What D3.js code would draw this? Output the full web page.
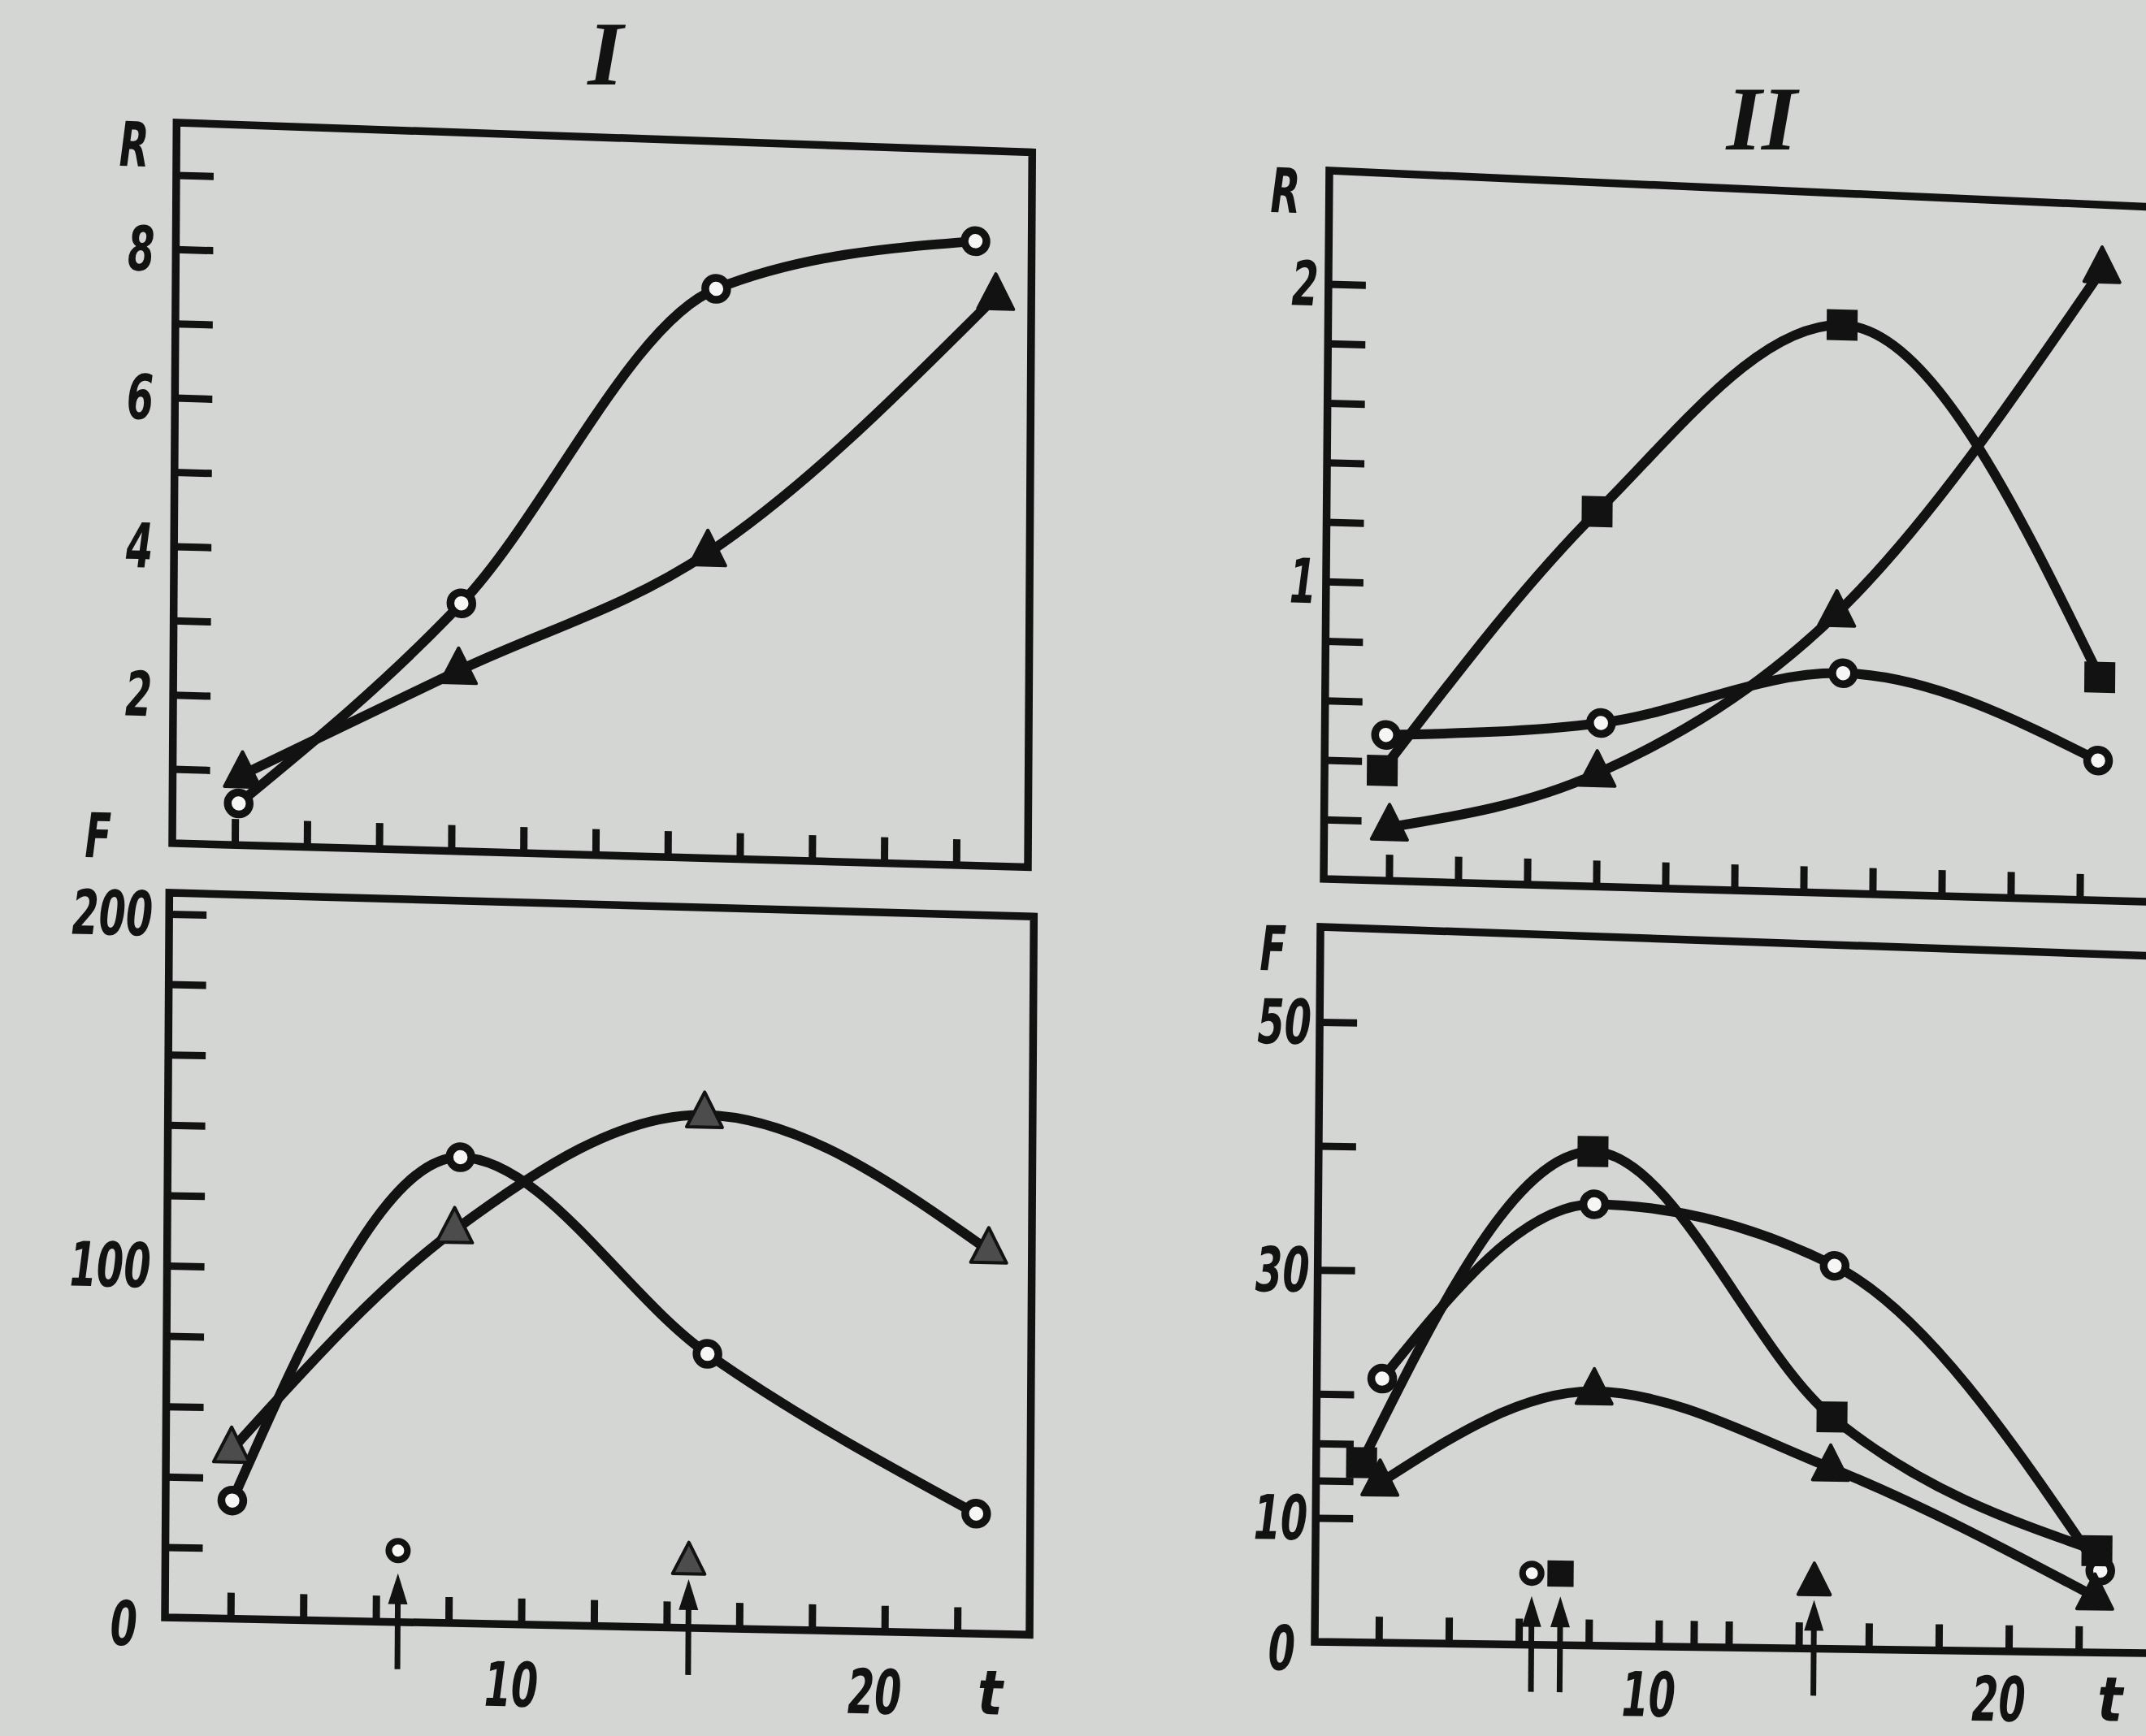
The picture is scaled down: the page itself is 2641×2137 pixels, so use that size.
<!DOCTYPE html>
<html>
<head>
<meta charset="utf-8">
<script src="https://cdn.jsdelivr.net/npm/d3@7"></script>
<style>
  html, body { margin: 0; padding: 0; background: #d4d6d3; overflow: hidden; }
  svg { display: block; }
</style>
</head>
<body>
<svg id="svg"></svg>
<script>
"use strict";

// ---- data ----
var tTicks    = [2, 4, 6, 8, 10, 12, 14, 16, 18, 20, 22];
var tTicksIIF = [2, 4, 6, 8, 10, 11, 12, 14, 16, 18, 20, 22];
var tLabels   = [10, 20];

var rTicksI   = [1, 2, 3, 4, 5, 6, 7, 8, 9];
var rLabelsI  = [2, 4, 6, 8];
var fTicksI   = [20, 40, 60, 80, 100, 120, 140, 160, 180, 200];
var fLabelsI  = [0, 100, 200];
var rTicksII  = [0.2, 0.4, 0.6, 0.8, 1, 1.2, 1.4, 1.6, 1.8, 2];
var rLabelsII = [1, 2];
var fTicksII  = [10, 13, 16, 20, 30, 40, 50];
var fLabelsII = [0, 10, 30, 50];

// panel I, R
var rI_circle_t   = [2.1, 8.24, 15.25, 22.43];
var rI_circle     = [0.56, 3.34, 7.67, 8.41];
var rI_triangle_t = [2.2, 8.17, 15.06, 23.0];
var rI_triangle   = [0.95, 2.43, 4.11, 7.67];

// panel I, F
var fI_circle_t   = [2.03, 8.25, 15.08, 22.5];
var fI_circle     = [33.6, 132.5, 78, 34.1];
var fI_triangle_t = [2.0, 8.1, 14.96, 22.8];
var fI_triangle   = [48, 111.7, 145.9, 109];

// panel II, R
var rII_square_t   = [1.78, 7.94, 14.99, 22.53];
var rII_square     = [0.37, 1.26, 1.91, 0.75];
var rII_circle_t   = [1.88, 8.1, 15.1, 22.5];
var rII_circle     = [0.49, 0.55, 0.74, 0.47];
var rII_triangle_t = [2.0, 8.0, 14.9, 22.5];
var rII_triangle   = [0.18, 0.38, 0.94, 2.12];

// panel II, F
var fII_square_t   = [1.47, 8.01, 14.9, 22.5];
var fII_square     = [14.5, 39.85, 18.7, 8.2];
var fII_circle_t   = [2.04, 8.06, 14.94, 22.6];
var fII_circle     = [21.3, 35.6, 30.9, 6.6];
var fII_triangle_t = [2.0, 8.1, 14.87, 22.45];
var fII_triangle   = [12.9, 20.5, 14.6, 4.5];

// arrows (time of treatment)
var arrowsI  = [{t: 6.6, shape: "circle"}, {t: 14.6, shape: "triangle"}];
var arrowsII = [{t: 6.36, shape: "circle"}, {t: 7.18, shape: "square"}, {t: 14.43, shape: "triangle"}];

// ---- drawing ----
var W = 2641, H = 2137;
var ink = "#121212", paper = "#d4d6d3", hole = "#f6f7f5", grayTri = "#4c4c4c";
var numFont = '"DejaVu Sans Condensed", "DejaVu Sans", sans-serif';

var svg = d3.select("#svg").attr("width", W).attr("height", H);
svg.append("rect").attr("width", W).attr("height", H).attr("fill", paper);

function label(g, txt, x, y, anchor, sx) {
	g.append("text")
		.attr("transform", "translate(" + x + "," + y + ") scale(" + (sx || 0.7) + ",1)")
		.attr("text-anchor", anchor)
		.attr("font-family", numFont)
		.attr("font-style", "italic")
		.attr("font-weight", "bold")
		.attr("font-size", 76)
		.attr("fill", ink)
		.text(txt);
}

function marker(sel, shape, fill, k) {
	k = k || 1;
	if (shape === "circle") {
		sel.append("circle").attr("r", 13.5 * k)
			.attr("fill", hole).attr("stroke", ink).attr("stroke-width", 9.5 * k);
	} else if (shape === "square") {
		sel.append("rect").attr("x", -19 * k).attr("y", -19 * k)
			.attr("width", 38 * k).attr("height", 38 * k).attr("fill", ink);
	} else {
		sel.append("path")
			.attr("d", "M0," + (-28 * k) + "L" + (22 * k) + "," + (15 * k) + "L" + (-22 * k) + "," + (15 * k) + "Z")
			.attr("fill", fill || ink).attr("stroke", ink).attr("stroke-width", 4)
			.attr("stroke-linejoin", "round");
	}
}

function styleAxis(a) {
	a.attr("color", ink);
	a.select(".domain").remove();
	a.selectAll("line").attr("stroke-width", 9);
}

function drawPanel(p) {
	var g = svg.append("g")
		.attr("transform", "translate(" + p.ox + "," + p.oy + ") matrix(1," + p.slope + "," + p.lean + ",1,0,0)");

	var x = d3.scaleLinear().domain([2, 22]).range([p.x2, p.x2 + 20 * p.xu]);
	var y = d3.scaleLinear().domain([0, 1]).range([0, -p.yu]);

	// frame; the top edge of the scan sags a bit more than the bottom one
	g.append("path")
		.attr("d", "M0,0L0," + (-p.h) + "L" + p.w + "," + (-p.h + p.drop) + "L" + p.w + ",0Z")
		.attr("fill", "none").attr("stroke", ink).attr("stroke-width", 9.5)
		.attr("stroke-linejoin", "miter");

	g.append("g").call(d3.axisRight(y).tickValues(p.yTicks).tickSize(46).tickFormat("")).call(styleAxis);
	g.append("g").call(d3.axisTop(x).tickValues(p.xTicks).tickSize(32).tickFormat("")).call(styleAxis);

	p.yLabels.forEach(function(v){
		var zero = v === 0;
		label(g, v, p.labX - (zero ? 14 : 0), y(v) + 27 + (zero ? 8 : 0), "end");
	});
	label(g, p.yName, p.nameX, p.nameY, "middle");

	if (p.xLabels) {
		p.xLabels.forEach(function(v){ label(g, v, x(v) - 12, p.xLabY, "middle"); });
		label(g, "t", x(23) - 4, p.xLabY - 2, "middle", 0.95);
	}

	var line = d3.line()
		.x(function(d){ return x(d.t); })
		.y(function(d){ return y(d.v); })
		.curve(d3.curveMonotoneX);

	p.series.forEach(function(s){
		var pts = s.t.map(function(t, i){ return {t: t, v: s.v[i]}; });
		g.append("path").datum(pts).attr("d", line)
			.attr("fill", "none").attr("stroke", ink).attr("stroke-width", 12)
			.attr("stroke-linejoin", "round").attr("stroke-linecap", "round");
		s.pts = pts;
	});

	p.series.forEach(function(s){
		g.selectAll(null).data(s.pts).enter().append("g")
			.attr("transform", function(d){ return "translate(" + x(d.t) + "," + y(d.v) + ")"; })
			.each(function(){ marker(d3.select(this), s.shape, s.fill); });
	});

	(p.arrows || []).forEach(function(a){
		var ax = x(a.t);
		g.append("line").attr("x1", ax).attr("x2", ax).attr("y1", 58).attr("y2", -30)
			.attr("stroke", ink).attr("stroke-width", 7);
		g.append("path")
			.attr("d", "M" + (ax - 12) + ",-22L" + ax + ",-60L" + (ax + 12) + ",-22Z")
			.attr("fill", ink);
		var m = g.append("g").attr("transform", "translate(" + ax + "," + (a.shape === "triangle" ? -80 : -88) + ")");
		marker(m, a.shape, p.triFill, a.shape === "triangle" ? 0.9 : 0.85);
	});
}

var panels = [
	{ ox: 212, oy: 1038, slope: 0.028, lean: -0.006, w: 1053, h: 887, drop: 7,
	  x2: 77, xu: 44.39, yu: 91.4,
	  yTicks: rTicksI, yLabels: rLabelsI, xTicks: tTicks,
	  labX: -26, yName: "R", nameX: -52, nameY: -832,
	  series: [
		{ t: rI_circle_t, v: rI_circle, shape: "circle" },
		{ t: rI_triangle_t, v: rI_triangle, shape: "triangle", fill: ink }
	  ] },
	{ ox: 203, oy: 1991, slope: 0.020, lean: -0.006, w: 1064, h: 892, drop: 8,
	  x2: 80.7, xu: 44.72, yu: 4.33,
	  yTicks: fTicksI, yLabels: fLabelsI, xTicks: tTicks, xLabels: tLabels, xLabY: 101,
	  labX: -20, yName: "F", nameX: -88, nameY: -934, triFill: grayTri,
	  arrows: arrowsI,
	  series: [
		{ t: fI_circle_t, v: fI_circle, shape: "circle" },
		{ t: fI_triangle_t, v: fI_triangle, shape: "triangle", fill: grayTri }
	  ] },
	{ ox: 1629, oy: 1082, slope: 0.0277, lean: -0.008, w: 1025, h: 872, drop: 17,
	  x2: 80.4, xu: 42.5, yu: 366.2,
	  yTicks: rTicksII, yLabels: rLabelsII, xTicks: tTicks,
	  labX: -12, yName: "R", nameX: -54, nameY: -819,
	  series: [
		{ t: rII_circle_t, v: rII_circle, shape: "circle" },
		{ t: rII_triangle_t, v: rII_triangle, shape: "triangle", fill: ink },
		{ t: rII_square_t, v: rII_square, shape: "square" }
	  ] },
	{ ox: 1618, oy: 2021, slope: 0.0137, lean: -0.008, w: 1035, h: 880, drop: 22,
	  x2: 78.7, xu: 43.07, yu: 15.26,
	  yTicks: fTicksII, yLabels: fLabelsII, xTicks: tTicksIIF, xLabels: tLabels, xLabY: 86,
	  labX: -10, yName: "F", nameX: -58, nameY: -826, triFill: ink,
	  arrows: arrowsII,
	  series: [
		{ t: fII_circle_t, v: fII_circle, shape: "circle" },
		{ t: fII_triangle_t, v: fII_triangle, shape: "triangle", fill: ink },
		{ t: fII_square_t, v: fII_square, shape: "square" }
	  ] }
];

panels.forEach(drawPanel);

// panel titles
[{ txt: "I", x: 745, y: 104 }, { txt: "II", x: 2168, y: 184 }].forEach(function(d){
	svg.append("text")
		.attr("x", d.x).attr("y", d.y)
		.attr("text-anchor", "middle")
		.attr("font-family", '"Liberation Serif", serif')
		.attr("font-style", "italic")
		.attr("font-weight", "bold")
		.attr("font-size", 112)
		.attr("fill", ink)
		.text(d.txt);
});
</script>
</body>
</html>
